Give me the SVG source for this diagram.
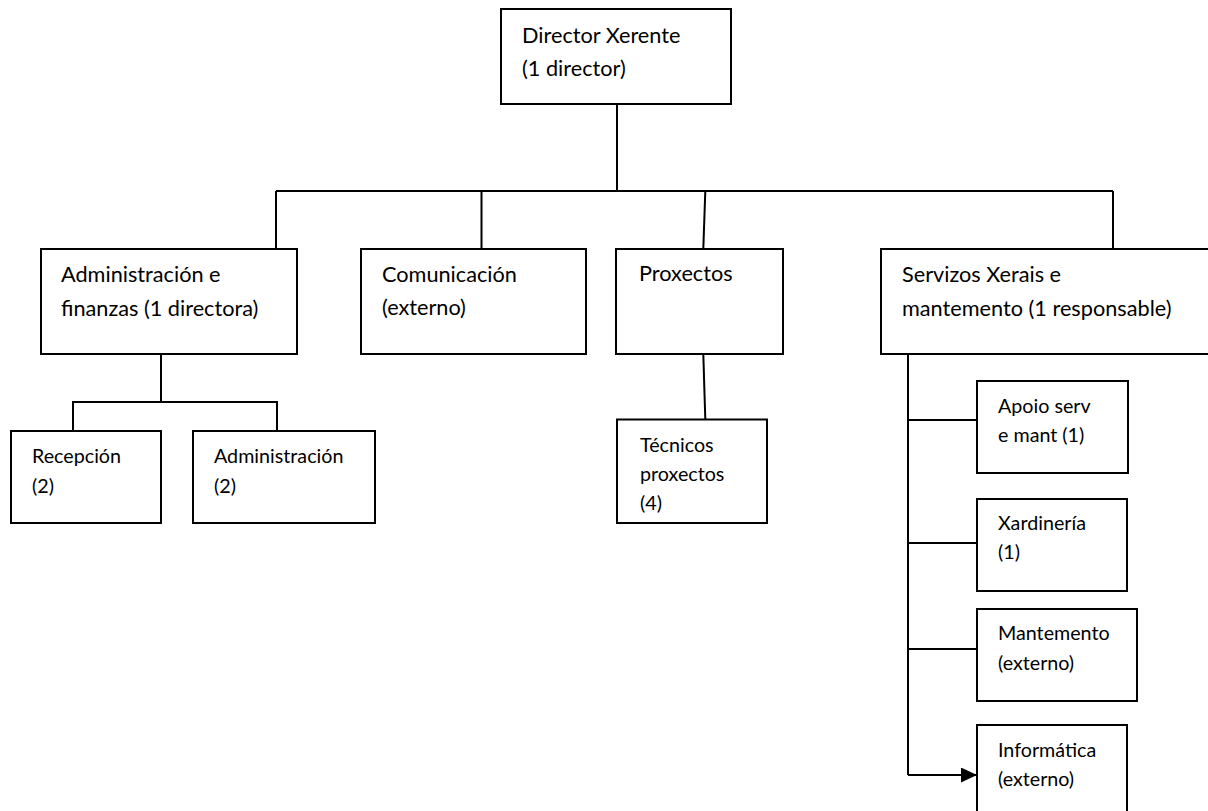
<svg xmlns="http://www.w3.org/2000/svg" width="1208" height="811" viewBox="0 0 1208 811">
<style>
.box{fill:#fff;stroke:#000;stroke-width:2}
.ln{fill:none;stroke:#000;stroke-width:2}
.t{font-family:Lato,"Open Sans","Liberation Sans",sans-serif;font-size:21.7px;fill:#000}
.s{font-family:Lato,"Open Sans","Liberation Sans",sans-serif;font-size:19.7px;fill:#000}
</style>
<defs>
<marker id="arr" markerUnits="userSpaceOnUse" markerWidth="18" markerHeight="18" refX="16" refY="7.5" orient="auto">
<path d="M0,0 L16,7.5 L0,15 Z" fill="#000"/>
</marker>
</defs>
<rect width="1208" height="811" fill="#fff"/>
<g id="connectors">
<path class="ln" d="M617,104 V191"/>
<path class="ln" d="M276,191 H1113"/>
<path class="ln" d="M276,191 V249"/>
<path class="ln" d="M481.5,191 V249"/>
<path class="ln" d="M705.3,191 L703.3,249"/>
<path class="ln" d="M1113,191 V249"/>
<path class="ln" d="M161,354 V402 M73,431 V402 H277 V431"/>
<path class="ln" d="M703.3,354 L705.3,419.5"/>
<path class="ln" d="M908,354 V775 M908,420 H977 M908,543 H977 M908,649 H977"/>
<path class="ln" d="M908,775 H977" marker-end="url(#arr)"/>
</g>
<g id="n-director"><rect class="box" x="501" y="9" width="230" height="95"/><text class="t" x="522" y="42.7">Director Xerente</text><text class="t" x="522" y="76">(1 director)</text></g>
<g id="n-admfin"><rect class="box" x="41" y="249" width="256" height="105"/><text class="t" x="61" y="281.7">Administración e</text><text class="t" x="61" y="316">finanzas (1 directora)</text></g>
<g id="n-comunicacion"><rect class="box" x="361" y="249" width="225" height="105"/><text class="t" x="382" y="281.7">Comunicación</text><text class="t" x="382" y="315">(externo)</text></g>
<g id="n-proxectos"><rect class="box" x="616" y="249" width="167" height="105"/><text class="t" x="639" y="280.7">Proxectos</text></g>
<g id="n-servizos"><rect class="box" x="881" y="249" width="330" height="105"/><text class="t" x="902" y="281.7">Servizos Xerais e</text><text class="t" x="902" y="316">mantemento (1 responsable)</text></g>
<g id="n-recepcion"><rect class="box" x="11" y="431" width="150" height="92"/><text class="s" x="32" y="462.7">Recepción</text><text class="s" x="32" y="493">(2)</text></g>
<g id="n-administracion"><rect class="box" x="193" y="431" width="182" height="92"/><text class="s" x="214" y="462.7">Administración</text><text class="s" x="214" y="493">(2)</text></g>
<g id="n-tecnicos"><rect class="box" x="617" y="419.5" width="150" height="103.5"/><text class="s" x="640" y="451.7">Técnicos</text><text class="s" x="640" y="480.7">proxectos</text><text class="s" x="640" y="509.7">(4)</text></g>
<g id="n-apoio"><rect class="box" x="977" y="381" width="151" height="92"/><text class="s" x="998" y="413.3">Apoio serv</text><text class="s" x="998" y="442">e mant (1)</text></g>
<g id="n-xardineria"><rect class="box" x="977" y="499" width="150" height="92"/><text class="s" x="998" y="530">Xardinería</text><text class="s" x="998" y="559">(1)</text></g>
<g id="n-mantemento"><rect class="box" x="977" y="609" width="160" height="92"/><text class="s" x="998" y="640">Mantemento</text><text class="s" x="998" y="669.5">(externo)</text></g>
<g id="n-informatica"><rect class="box" x="977" y="725" width="150" height="92"/><text class="s" x="998" y="756.7">Informática</text><text class="s" x="998" y="785.7">(externo)</text></g>
</svg>
